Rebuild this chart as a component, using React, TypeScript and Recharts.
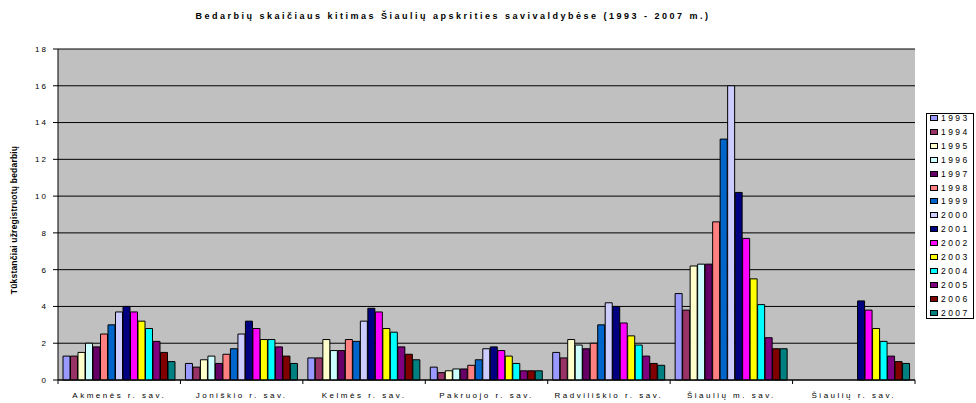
import React from "react";
import { BarChart, Bar, XAxis, YAxis, CartesianGrid } from "recharts";

const categories = [
  "Akmenės r. sav.",
  "Joniškio r. sav.",
  "Kelmės r. sav.",
  "Pakruojo r. sav.",
  "Radviliškio r. sav.",
  "Šiaulių m. sav.",
  "Šiaulių r. sav.",
];

const years = [1993, 1994, 1995, 1996, 1997, 1998, 1999, 2000, 2001, 2002, 2003, 2004, 2005, 2006, 2007];

// thousands of registered unemployed, 1993..2007
const akmenes = [1.3, 1.3, 1.5, 2.0, 1.8, 2.5, 3.0, 3.7, 4.0, 3.7, 3.2, 2.8, 2.1, 1.5, 1.0];
const joniskio = [0.9, 0.7, 1.1, 1.3, 0.9, 1.4, 1.7, 2.5, 3.2, 2.8, 2.2, 2.2, 1.8, 1.3, 0.9];
const kelmes = [1.2, 1.2, 2.2, 1.6, 1.6, 2.2, 2.1, 3.2, 3.9, 3.7, 2.8, 2.6, 1.8, 1.4, 1.1];
const pakruojo = [0.7, 0.4, 0.5, 0.6, 0.6, 0.8, 1.1, 1.7, 1.8, 1.6, 1.3, 0.9, 0.5, 0.5, 0.5];
const radviliskio = [1.5, 1.2, 2.2, 1.9, 1.7, 2.0, 3.0, 4.2, 4.0, 3.1, 2.4, 1.9, 1.3, 0.9, 0.8];
const siauliuMiestas = [4.7, 3.8, 6.2, 6.3, 6.3, 8.6, 13.1, 16.0, 10.2, 7.7, 5.5, 4.1, 2.3, 1.7, 1.7];
const siauliuRajonas = [null, null, null, null, null, null, null, null, 4.3, 3.8, 2.8, 2.1, 1.3, 1.0, 0.9];

const yTicks = [0, 2, 4, 6, 8, 10, 12, 14, 16, 18];

const colors = [
  "#9999FF", "#993366", "#FFFFCC", "#CCFFFF", "#660066",
  "#FF8080", "#0066CC", "#CCCCFF", "#000080", "#FF00FF",
  "#FFFF00", "#00FFFF", "#800080", "#800000", "#008080",
];

const rows = [akmenes, joniskio, kelmes, pakruojo, radviliskio, siauliuMiestas, siauliuRajonas];

const data = categories.map((name, i) => {
  const row: Record<string, string | number | null> = { name };
  years.forEach((y, j) => {
    row["y" + y] = rows[i][j];
  });
  return row;
});

const FONT = "'Liberation Sans', Arial, sans-serif";

function CategoryTick(props: any) {
  const { x, y, payload, index } = props;
  const half = payload.offset ?? 61.2;
  return (
    <g>
      <line x1={x - half} y1={y} x2={x - half} y2={y + 4} stroke="#000" />
      {index === categories.length - 1 && (
        <line x1={x + half} y1={y} x2={x + half} y2={y + 4} stroke="#000" />
      )}
      <text x={x} y={y + 18} textAnchor="middle" fontSize={8} fontFamily={FONT} letterSpacing={2.5} fill="#000">
        {payload.value}
      </text>
    </g>
  );
}

function LegendBox() {
  return (
    <div
      style={{
        position: "absolute",
        left: 926,
        top: 113,
        width: 48,
        height: 206,
        border: "1px solid #000",
        background: "#fff",
        padding: "0 0 0 3px",
        fontFamily: FONT,
        fontSize: 8.5,
        boxSizing: "border-box",
        overflow: "hidden",
      }}
    >
      <div style={{ marginTop: -3 }}>
        {years.map((y, i) => (
          <div key={y} style={{ height: 13.93, display: "flex", alignItems: "center" }}>
            <span
              style={{
                display: "inline-block",
                width: 6,
                height: 4,
                background: colors[i],
                border: "1px solid #000",
                marginRight: 3,
              }}
            />
            <span style={{ letterSpacing: 2.4 }}>{y}</span>
          </div>
        ))}
      </div>
    </div>
  );
}

export default function App() {
  return (
    <div style={{ position: "relative", width: 976, height: 403, background: "#fff" }}>
      <style>{"body{margin:0}"}</style>
      <BarChart
        width={976}
        height={403}
        data={data}
        margin={{ top: 49, right: 61, bottom: 0, left: 0 }}
        barCategoryGap={5}
        barGap={0.5}
      >
        <text x={453} y={19} textAnchor="middle" fontSize={9} fontWeight="bold" fontFamily={FONT} letterSpacing={2.5} fill="#000">
          Bedarbių skaičiaus kitimas Šiaulių apskrities savivaldybėse (1993 - 2007 m.)
        </text>
        <text
          x={17}
          y={220}
          transform="rotate(-90 17 220)"
          textAnchor="middle"
          fontSize={8.5}
          fontWeight="bold"
          fontFamily={FONT}
          letterSpacing={0.2}
          fill="#000"
        >
          Tūkstančiai užregistruotų bedarbių
        </text>
        <CartesianGrid vertical={false} stroke="#000" fill="#C0C0C0" fillOpacity={1} />
        <XAxis
          dataKey="name"
          height={23}
          interval={0}
          axisLine={{ stroke: "#000" }}
          tickLine={false}
          tickSize={0}
          tickMargin={0}
          tick={<CategoryTick />}
        />
        <YAxis
          width={58}
          domain={[0, 18]}
          ticks={yTicks}
          interval={0}
          axisLine={{ stroke: "#000" }}
          tickLine={{ stroke: "#000" }}
          tickSize={5}
          tickMargin={5}
          tick={{ fontSize: 8, fontFamily: FONT, fill: "#000", letterSpacing: 2 }}
        />
        <YAxis
          yAxisId="frame"
          orientation="right"
          width={0}
          domain={[0, 18]}
          tick={false}
          tickLine={false}
          axisLine={{ stroke: "#808080" }}
        />
        {years.map((y, i) => (
          <Bar
            key={y}
            dataKey={"y" + y}
            name={String(y)}
            fill={colors[i]}
            stroke="#000"
            strokeWidth={1}
            isAnimationActive={false}
          />
        ))}
      </BarChart>
      <LegendBox />
    </div>
  );
}
